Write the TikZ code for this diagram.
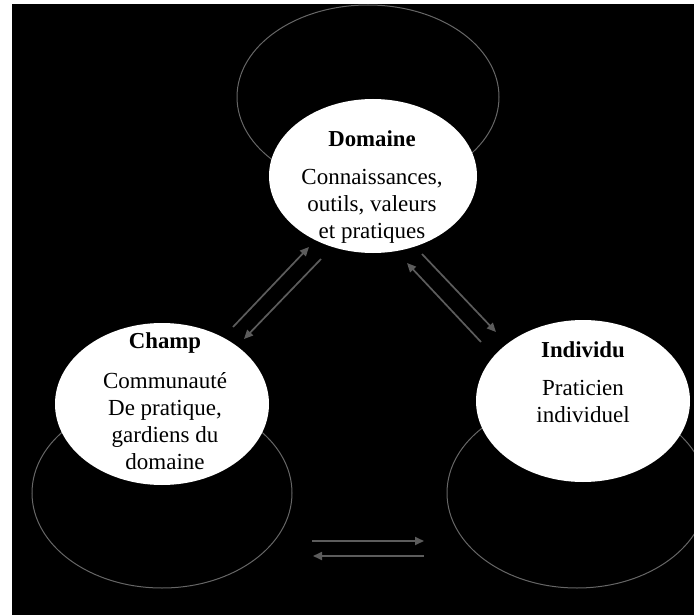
\documentclass[tikz,border=0pt]{standalone}
\usepackage{fontspec}
\setmainfont{Liberation Serif}
\usetikzlibrary{shapes.geometric,arrows.meta}
\definecolor{ringgray}{HTML}{666666}
\definecolor{arrowgray}{HTML}{5C5C5C}
\begin{document}
\begin{tikzpicture}[x=1pt,y=-1pt,
  ring/.style={ellipse,draw=ringgray,line width=1pt,inner sep=0pt},
  bubble/.style={ellipse,fill=white,draw=none,inner sep=0pt},
  title/.style={font=\fontsize{22.8}{26}\selectfont\bfseries,text=black,inner sep=0pt},
  body/.style={font=\fontsize{23}{27}\selectfont,align=center,text=black,inner sep=0pt},
  flow/.style={draw=arrowgray,line width=1.7pt,-{Triangle[length=9pt,width=8pt]}}]
\useasboundingbox (0,0) rectangle (694,615);
\fill[white] (0,0) rectangle (694,615);
\fill[black] (12,4) rectangle (694,615);

% outer rings behind the three spheres
\node[ring,minimum width=262pt,minimum height=184pt] (ringD) at (368,97) {};
\node[ring,minimum width=260pt,minimum height=190pt] (ringC) at (162,493) {};
\node[ring,minimum width=260pt,minimum height=190pt] (ringI) at (577,493) {};

% the three spheres
\node[bubble,minimum width=208pt,minimum height=154pt] (dom) at (373,176) {};
\node[bubble,minimum width=214pt,minimum height=162pt] (champ) at (162,404) {};
\node[bubble,minimum width=214pt,minimum height=162pt] (indiv) at (583,401) {};

% texts
\node[title] (domT) at (372,139) {Domaine};
\node[body] (domB) at (372,206) {Connaissances,\\outils, valeurs\\ et pratiques};
\node[title] (champT) at (165,343) {Champ};
\node[body] (champB) at (165,421) {Communauté\\De pratique,\\gardiens du\\domaine};
\node[title] (indivT) at (583,350) {Individu};
\node[body] (indivB) at (583,401) {Praticien\\individuel};

% arrow end points between the spheres
\coordinate (cd1) at (233,327); \coordinate (cd2) at (309,247);
\coordinate (dc1) at (321,259); \coordinate (dc2) at (244,339);
\coordinate (id1) at (481,342); \coordinate (id2) at (407,263);
\coordinate (di1) at (422,254); \coordinate (di2) at (496,332);
\coordinate (ci1) at (312,541); \coordinate (ci2) at (424,541);
\coordinate (ic1) at (424,556); \coordinate (ic2) at (313,556);

\draw[flow] (cd1) -- (cd2);
\draw[flow] (dc1) -- (dc2);
\draw[flow] (id1) -- (id2);
\draw[flow] (di1) -- (di2);
\draw[flow] (ci1) -- (ci2);
\draw[flow] (ic1) -- (ic2);
\end{tikzpicture}
\end{document}
